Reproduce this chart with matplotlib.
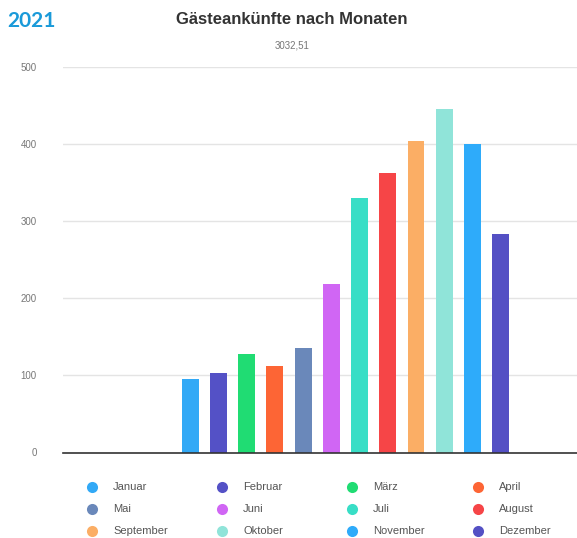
import matplotlib
matplotlib.use("Agg")
import matplotlib.pyplot as plt

months = ["Januar", "Februar", "März", "April", "Mai", "Juni",
          "Juli", "August", "September", "Oktober", "November", "Dezember"]
arrivals = [95, 103, 128, 112, 135, 218, 330, 363, 404, 445, 400, 283]
colors = ["#32a9f6", "#5451c6", "#20dc73", "#fd6535", "#6a88ba", "#d066f4",
          "#38dec6", "#f64547", "#fbae65", "#90e4d9", "#2eabfa", "#5450c4"]
yticks = [0, 100, 200, 300, 400, 500]

plt.rcParams["font.family"] = ["Liberation Sans", "DejaVu Sans"]

fig = plt.figure(figsize=(5.77, 5.38), dpi=100)
ax = fig.add_axes([63 / 577, 1 - 452.5 / 538, 1 - 63 / 577, (452.5 - 67) / 538])

x = list(range(len(months)))
ax.bar(x, arrivals, width=0.6, color=colors, zorder=3)

ax.set_xlim(-4.5, 13.7)
ax.set_ylim(0, 500)
ax.set_yticks(yticks)
ax.set_yticklabels([str(t) for t in yticks], fontsize=7, color="#777777")
ax.set_xticks([])
ax.tick_params(axis="y", length=0, pad=19)
ax.grid(axis="y", color="#e4e4e4", linewidth=1, zorder=0)
for s in ["top", "right", "left"]:
    ax.spines[s].set_visible(False)
ax.spines["bottom"].set_color("#333333")
ax.spines["bottom"].set_linewidth(1.2)
ax.spines["bottom"].set_zorder(4)

# header texts
fig.text(7 / 577, 1 - 21 / 538, "2021", fontsize=15, fontweight="bold",
         color="#1a9ad9", va="center", ha="left", family=["Lato", "DejaVu Sans"])
fig.text(292 / 577, 1 - 20 / 538, "Gästeankünfte nach Monaten", fontsize=12,
         fontweight="bold", color="#333333", ha="center", va="center")
fig.text(292 / 577, 1 - 45 / 538, "3032,51", fontsize=7, color="#777777",
         ha="center", va="center")

# legend, 4 columns, filled row-wise
lax = fig.add_axes([0, 0, 1, 1])
lax.set_xlim(0, 577)
lax.set_ylim(538, 0)
lax.axis("off")
col_x = [92, 222, 352, 478]
row_y = [487, 509, 531]
for i, (m, c) in enumerate(zip(months, colors)):
    cx = col_x[i % 4]
    cy = row_y[i // 4]
    lax.plot(cx, cy, "o", markersize=8, color=c, markeredgewidth=0)
    lax.text(cx + 21, cy, m, fontsize=8, color="#555555", va="center", ha="left")

fig.savefig("out.png", dpi=100)
